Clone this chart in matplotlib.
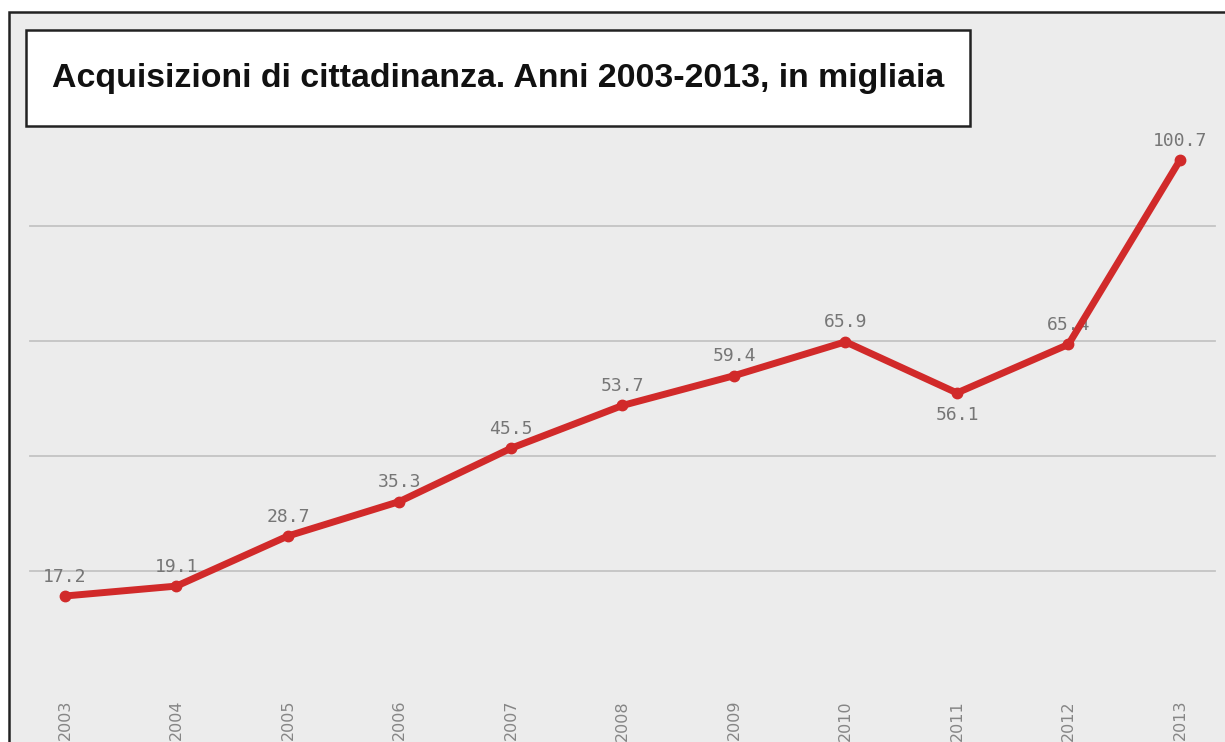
import matplotlib.pyplot as plt
from matplotlib.patches import Rectangle

# data (thousands)
years = ["2003", "2004", "2005", "2006", "2007", "2008",
         "2009", "2010", "2011", "2012", "2013"]
values = [17.2, 19.1, 28.7, 35.3, 45.5, 53.7, 59.4, 65.9, 56.1, 65.4, 100.7]
grid_levels = [22, 44, 66, 88]
title = "Acquisizioni di cittadinanza. Anni 2003-2013, in migliaia"

W, H = 1225, 742
BG = "#ececec"
RED = "#d12a2a"
LABEL_GRAY = "#767676"


def px_box(x0, y0, x1, y1):
    # pixel box (top-left origin) -> figure fraction (left, bottom, w, h)
    return x0 / W, 1 - y1 / H, (x1 - x0) / W, (y1 - y0) / H


fig = plt.figure(figsize=(W / 100, H / 100), dpi=100)
fig.patch.set_facecolor("white")

# outer gray panel with black border (right/bottom run off the picture)
l, b, w, h = px_box(9, 12, W + 20, H + 20)
fig.patches.append(Rectangle((l, b), w, h, transform=fig.transFigure,
                             facecolor=BG, edgecolor="#222222", linewidth=1.8,
                             zorder=-1))

ax = fig.add_axes([0, 0, 1, 1])
ax.patch.set_visible(False)
for s in ax.spines.values():
    s.set_visible(False)
ax.set_xticks([])
ax.set_yticks([])

x = list(range(len(years)))
ax.set_xlim(-0.583, 10.404)
ax.set_ylim(-10.77, 131.38)

for g in grid_levels:
    ax.axhline(g, xmin=30 / W, xmax=1215 / W, color="#c4c4c4", linewidth=1.3,
               zorder=1)

# value labels (drawn under the line)
for i, v in enumerate(values):
    if years[i] == "2011":
        ax.annotate(f"{v:.1f}", (i, v), xytext=(0, -16), textcoords="offset points",
                    ha="center", va="center", color=LABEL_GRAY, fontsize=13,
                    family="DejaVu Sans Mono", zorder=2)
    else:
        ax.annotate(f"{v:.1f}", (i, v), xytext=(0, 14), textcoords="offset points",
                    ha="center", va="center", color=LABEL_GRAY, fontsize=13,
                    family="DejaVu Sans Mono", zorder=2)

ax.plot(x, values, color=RED, linewidth=5, marker="o", markersize=7.5,
        solid_joinstyle="round", solid_capstyle="round", zorder=3)

# rotated year labels along the bottom
for i, yr in enumerate(years):
    ax.text(i, 1 - 700 / H, yr, transform=ax.get_xaxis_transform(),
            rotation=90, ha="center", va="top", fontsize=11.5, color="#858585")

# title box
l, b, w, h = px_box(26, 30, 970, 126)
fig.patches.append(Rectangle((l, b), w, h, transform=fig.transFigure,
                             facecolor="white", edgecolor="#222222",
                             linewidth=1.8, zorder=5))
fig.text(52 / W, 1 - 78 / H, title, ha="left", va="center",
         fontsize=24.4, fontweight="bold", family="Liberation Sans",
         color="#111111", zorder=6)

fig.savefig("out.png", dpi=100)
